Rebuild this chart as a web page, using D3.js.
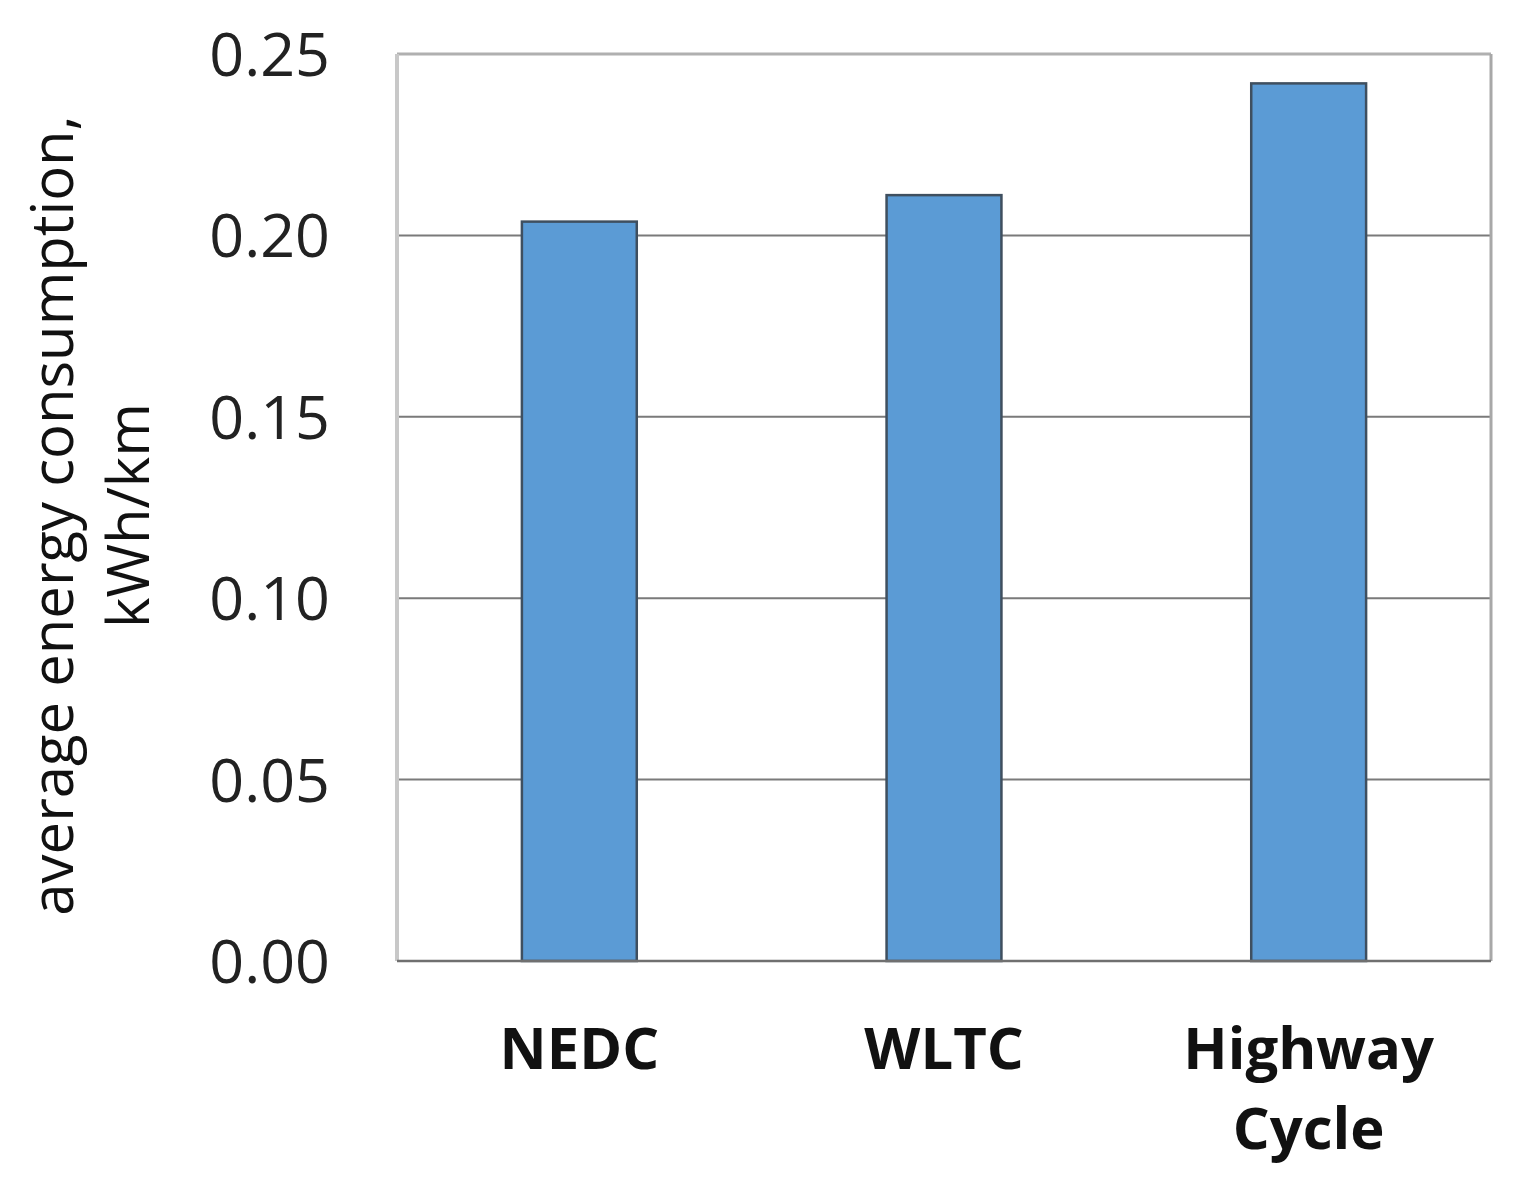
<!DOCTYPE html>
<html>
<meta charset="utf-8">
<style>
  body { margin: 0; background: #fff; }
  .tick-label { font-family: "Open Sans", sans-serif; font-size: 61px; fill: #222; }
  .cat-label { font-family: "Open Sans", sans-serif; font-weight: bold; font-size: 58px; fill: #111; }
  .y-title { font-family: "Open Sans", sans-serif; font-weight: 500; font-size: 58px; fill: #111; }
</style>
<svg width="1518" height="1188"></svg>
<script src="https://d3js.org/d3.v7.min.js"></script>
<script>
  // data
  var categories = ["NEDC", "WLTC", "Highway Cycle"];
  var values = [0.2038, 0.2111, 0.2419];
  var yTicks = [0, 0.05, 0.10, 0.15, 0.20, 0.25];

  var svg = d3.select("svg"),
    margin = { top: 54, right: 27, bottom: 227, left: 397 },
    width = +svg.attr("width") - margin.left - margin.right,
    height = +svg.attr("height") - margin.top - margin.bottom,
    g = svg.append("g").attr("transform", "translate(" + margin.left + "," + margin.top + ")");

  var x = d3.scaleBand()
    .domain(categories)
    .range([0, width])
    .paddingInner(0.685)
    .paddingOuter(0.3425);

  var y = d3.scaleLinear()
    .domain([0, 0.25])
    .range([height, 0]);

  // gridlines
  g.selectAll(".grid")
    .data(yTicks.slice(1, 5))
    .enter().append("line")
    .attr("x1", 0).attr("x2", width)
    .attr("y1", function (d) { return y(d); })
    .attr("y2", function (d) { return y(d); })
    .attr("stroke", "#7a7a7a")
    .attr("stroke-width", 2);

  // plot border
  g.append("line").attr("x1", 0).attr("x2", width).attr("y1", 0).attr("y2", 0)
    .attr("stroke", "#b0b0b0").attr("stroke-width", 3);
  g.append("line").attr("x1", width).attr("x2", width).attr("y1", 0).attr("y2", height)
    .attr("stroke", "#a8a8a8").attr("stroke-width", 3);
  g.append("line").attr("x1", 0).attr("x2", 0).attr("y1", 0).attr("y2", height)
    .attr("stroke", "#c8c8c8").attr("stroke-width", 4);

  // bars
  g.selectAll(".bar")
    .data(values)
    .enter().append("rect")
    .attr("x", function (d, i) { return x(categories[i]); })
    .attr("y", function (d) { return y(d); })
    .attr("width", x.bandwidth())
    .attr("height", function (d) { return y(0) - y(d); })
    .attr("fill", "#5b9bd5")
    .attr("stroke", "#3f4f5f")
    .attr("stroke-width", 2.5);

  // x baseline
  g.append("line").attr("x1", 0).attr("x2", width).attr("y1", height).attr("y2", height)
    .attr("stroke", "#707070").attr("stroke-width", 2.5);

  // y tick labels
  g.selectAll(".tick-label")
    .data(yTicks)
    .enter().append("text")
    .attr("class", "tick-label")
    .attr("x", -67)
    .attr("y", function (d) { return y(d); })
    .attr("dy", "0.36em")
    .attr("text-anchor", "end")
    .text(function (d) { return d3.format(".2f")(d); });

  // category labels
  var cat = g.selectAll(".cat-label")
    .data(categories)
    .enter().append("text")
    .attr("class", "cat-label")
    .attr("text-anchor", "middle")
    .attr("transform", function (d) { return "translate(" + (x(d) + x.bandwidth() / 2) + "," + (height + 108) + ")"; });
  cat.selectAll("tspan")
    .data(function (d) { return d.split(" "); })
    .enter().append("tspan")
    .attr("x", 0)
    .attr("dy", function (d, i) { return i === 0 ? 0 : 80; })
    .text(function (d) { return d; });

  // y axis title
  var title = svg.append("text")
    .attr("class", "y-title")
    .attr("text-anchor", "middle")
    .attr("transform", "translate(73," + (margin.top + height / 2 + 8) + ") rotate(-90)");
  title.append("tspan").attr("x", 0).attr("dy", 0).text("average energy consumption,");
  title.append("tspan").attr("x", 0).attr("dy", 76).text("kWh/km");
</script>
</html>
